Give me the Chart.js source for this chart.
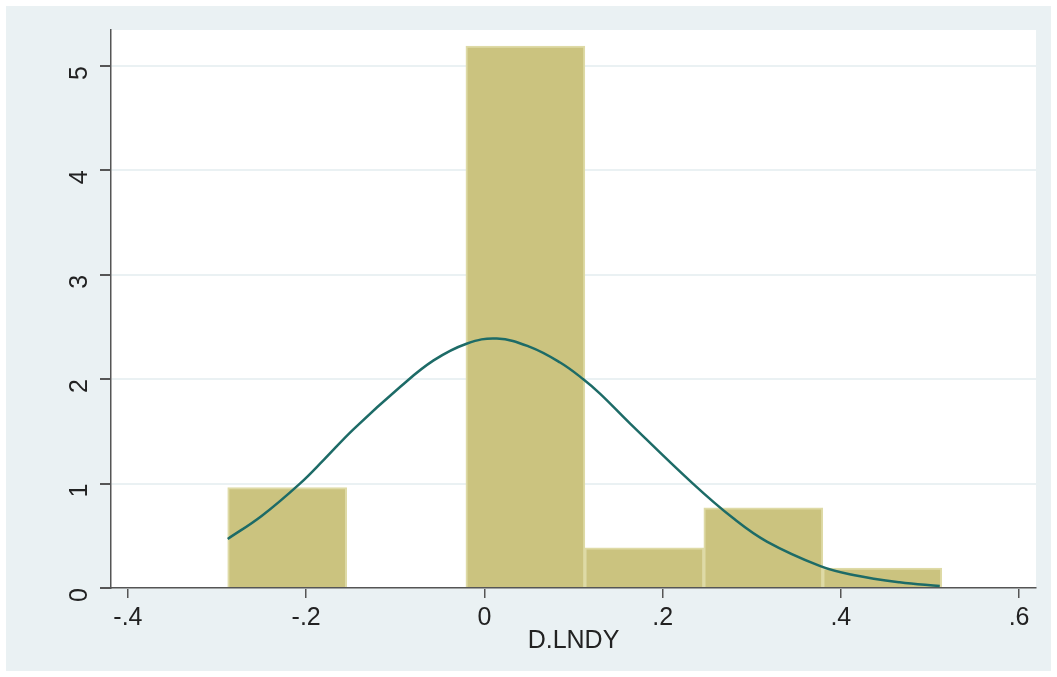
<!DOCTYPE html>
<html>
<head>
<meta charset="utf-8">
<script src="https://cdn.jsdelivr.net/npm/chart.js@4.4.1/dist/chart.umd.min.js"></script>
<style>
  html, body { margin: 0; padding: 0; background: #ffffff; }
  #wrap { width: 1057px; height: 677px; }
</style>
</head>
<body>
<div id="wrap"><canvas id="hist" width="1057" height="677"></canvas></div>
<script>
// histogram bins (centers) and density heights
const binCenters = [-0.2213, -0.0875, 0.0460, 0.1795, 0.3130, 0.4465];
const binDensity = [0.962, 0, 5.19, 0.385, 0.769, 0.192];

// normal density curve
const curveX = [-0.288, -0.250, -0.207, -0.180, -0.147, -0.094, -0.057, -0.020, 0.014, 0.051, 0.085, 0.111, 0.130, 0.163, 0.234, 0.279, 0.317, 0.377, 0.414, 0.466, 0.511];
const curveY = [0.47, 0.69, 1.00, 1.23, 1.52, 1.93, 2.18, 2.34, 2.39, 2.31, 2.16, 2.0, 1.86, 1.58, 1.00, 0.67, 0.445, 0.21, 0.125, 0.055, 0.019];

const xTicks = [-0.4, -0.2, 0, 0.2, 0.4, 0.6];
const xTickLabels = ['-.4', '-.2', '0', '.2', '.4', '.6'];
const yTicks = [0, 1, 2, 3, 4, 5];

const axisColor = '#555555';
const gridColor = '#eaf1f3';
const labelFont = { family: 'Liberation Sans, Arial, sans-serif', size: 25 };

const backdrop = {
  id: 'backdrop',
  beforeDraw(chart) {
    const c = chart.ctx;
    const a = chart.chartArea;
    c.save();
    c.fillStyle = '#ffffff';
    c.fillRect(0, 0, chart.width, chart.height);
    c.fillStyle = '#eaf1f3';
    c.fillRect(6, 6, chart.width - 12, chart.height - 12);
    c.fillStyle = '#ffffff';
    c.fillRect(a.left, a.top, a.right - a.left, a.bottom - a.top);
    c.restore();
  }
};

const ctx = document.getElementById('hist').getContext('2d');
const chart = new Chart(ctx, {
  type: 'bar',
  data: {
    datasets: [{
      type: 'line',
      data: curveX.map((x, i) => ({ x: x, y: curveY[i] })),
      borderColor: '#1d6b67',
      borderWidth: 2.5,
      pointRadius: 0,
      tension: 0.4,
      fill: false,
      order: 0
    }, {
      type: 'bar',
      data: binCenters.map((x, i) => ({ x: x, y: binDensity[i] })).filter(p => p.y > 0),
      backgroundColor: '#cbc37f',
      borderColor: '#dedaa6',
      borderWidth: 2,
      barPercentage: 1,
      categoryPercentage: 1,
      grouped: false,
      order: 1
    }]
  },
  options: {
    responsive: false,
    animation: false,
    layout: { padding: { left: 6, top: 30, right: 21, bottom: 21 } },
    plugins: { legend: { display: false }, tooltip: { enabled: false } },
    scales: {
      x: {
        type: 'linear',
        offset: false,
        min: -0.419,
        max: 0.619,
        afterBuildTicks: s => { s.ticks = xTicks.map(v => ({ value: v })); },
        afterFit: s => { s.height = 68; s.paddingLeft = 0; s.paddingRight = 0; },
        ticks: {
          color: '#222222',
          font: labelFont,
          padding: 5,
          maxRotation: 0,
          callback: (v, i) => xTickLabels[i]
        },
        grid: {
          offset: false,
          drawOnChartArea: false,
          drawTicks: true,
          tickLength: 10,
          tickColor: axisColor,
          lineWidth: 1.5
        },
        border: { color: axisColor, width: 1.5 },
        title: {
          display: true,
          text: 'D.LNDY',
          color: '#222222',
          font: labelFont,
          padding: { top: 0, bottom: 0 }
        }
      },
      y: {
        min: 0,
        max: 5.345,
        afterBuildTicks: s => { s.ticks = yTicks.map(v => ({ value: v })); },
        afterFit: s => { s.width = 105; s.paddingTop = 0; s.paddingBottom = 0; },
        ticks: {
          color: '#222222',
          font: labelFont,
          padding: 20,
          minRotation: 90,
          maxRotation: 90,
          callback: v => String(v)
        },
        grid: {
          color: gridColor,
          lineWidth: 2,
          tickLength: 11,
          tickColor: axisColor
        },
        border: { color: axisColor, width: 1.5 }
      }
    }
  },
  plugins: [backdrop]
});
</script>
</body>
</html>
